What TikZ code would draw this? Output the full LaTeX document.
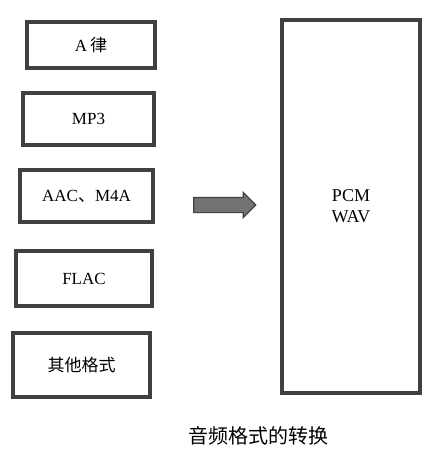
\documentclass[tikz,border=0pt]{standalone}
\usepackage{fontspec}
\setmainfont{Liberation Serif}
\newfontfamily\cjk{Noto Sans CJK SC}
\usetikzlibrary{shapes.arrows}
\definecolor{edge}{gray}{0.25}
\definecolor{fillg}{gray}{0.45}
\tikzset{
  fmtbox/.style={draw=edge, line width=3.2pt, rectangle, inner sep=0pt, font=\fontsize{17}{20}\selectfont},
  bigarrow/.style={single arrow, draw=edge, fill=fillg, line width=1.2pt, minimum height=62pt, single arrow head extend=5pt, single arrow tip angle=90, inner xsep=0pt, inner ysep=7pt}
}
\begin{document}
\begin{tikzpicture}[x=1pt,y=-1pt]
\useasboundingbox (0,0) rectangle (444,458);
\node[fmtbox, minimum width=128pt, minimum height=46pt] (a) at (91,45) {A\,{\cjk 律}};
\node[fmtbox, minimum width=131pt, minimum height=52pt] (mp3) at (88.5,119) {MP3};
\node[fmtbox, minimum width=133pt, minimum height=52pt] (aac) at (86.5,196) {AAC{\cjk 、}M4A};
\node[fmtbox, minimum width=136pt, minimum height=55pt] (flac) at (84,278.5) {FLAC};
\node[fmtbox, minimum width=137pt, minimum height=64pt] (other) at (81.5,365) {\cjk 其他格式};
\node[fmtbox, minimum width=138pt, minimum height=373pt, align=center, font=\fontsize{18}{21}\selectfont] (pcm) at (351,206.5) {PCM\\WAV};
\node[bigarrow] (arr) at (221,205) {};
\node[font=\cjk\fontsize{20}{24}\selectfont] (cap) at (258,436) {音频格式的转换};
\end{tikzpicture}
\end{document}
